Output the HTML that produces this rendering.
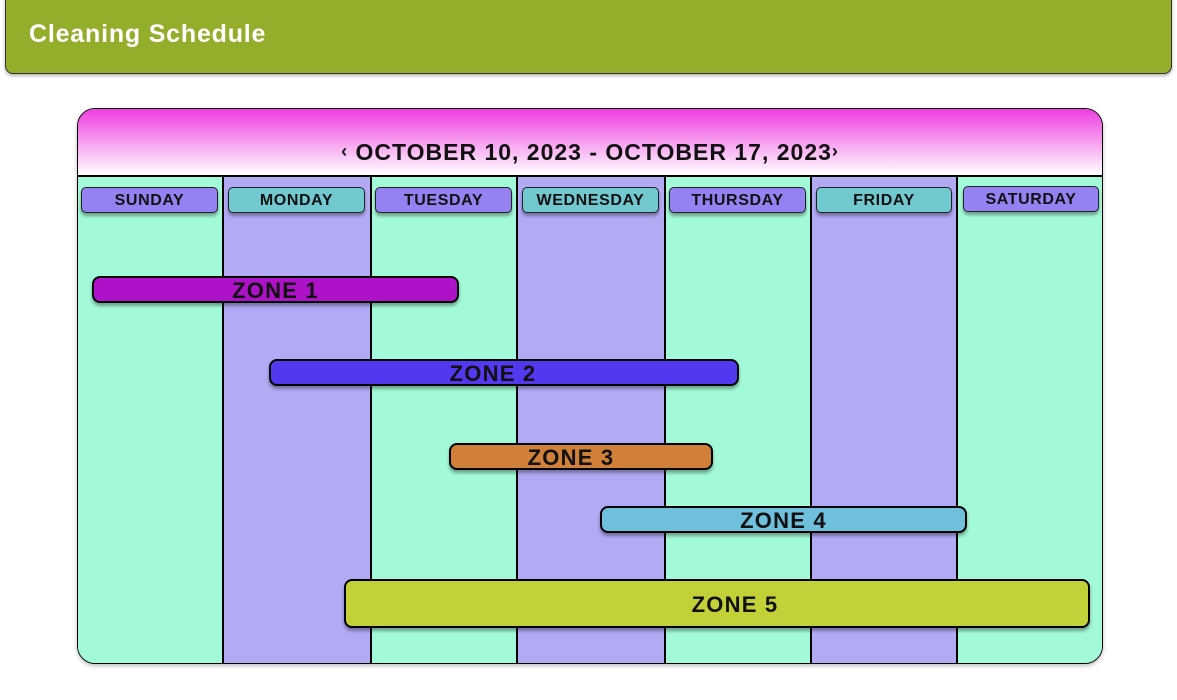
<!DOCTYPE html>
<html><head><style>
body{margin:0;width:1177px;height:700px;background:#fff;position:relative;overflow:hidden;font-family:"Liberation Sans",sans-serif;}
.a{position:absolute;box-sizing:border-box;}
.top{left:5px;top:-2px;width:1167px;height:76px;background:#94ad2b;border:1px solid #333;border-radius:0 0 8px 8px;box-shadow:0 2px 3px rgba(0,0,0,.3);}
.title{left:29px;top:20px;color:#fff;font-weight:bold;font-size:25px;letter-spacing:0.8px;}
.cal{left:77px;top:108px;width:1026px;height:556px;border:1.5px solid #000;border-radius:18px;overflow:hidden;box-shadow:0 2px 4px rgba(0,0,0,.25);}
.hd{left:0;top:0;width:100%;height:68px;background:linear-gradient(#ee3ee0,#fff);border-bottom:2px solid #000;}
.ht{left:0;top:30px;width:100%;text-align:center;font-weight:bold;font-size:23px;color:#111;letter-spacing:1px;}
.col{top:68px;height:500px;border-right:2px solid #000;}
.day{height:26px;border:1px solid #222;border-radius:5px;text-align:center;font-weight:bold;font-size:16px;line-height:25px;color:#111;letter-spacing:0.6px;box-shadow:0 3px 3px rgba(0,0,0,.35);}
.bar{border:2px solid #000;border-radius:8px;text-align:center;font-weight:bold;font-size:22px;color:#111;letter-spacing:1.2px;box-shadow:0 3px 3px rgba(0,0,0,.35);}
</style></head><body>
<div class="a top"></div>
<div class="a title">Cleaning Schedule</div>
<div class="a cal">
 <div class="a col" style="left:0;width:146px;background:#a3fad8"></div>
 <div class="a col" style="left:146px;width:148px;background:#b3aaf6"></div>
 <div class="a col" style="left:294px;width:146px;background:#a3fad8"></div>
 <div class="a col" style="left:440px;width:148px;background:#b3aaf6"></div>
 <div class="a col" style="left:588px;width:146px;background:#a3fad8"></div>
 <div class="a col" style="left:734px;width:146px;background:#b3aaf6"></div>
 <div class="a col" style="left:880px;width:150px;background:#a3fad8;border-right:none"></div>
 <div class="a hd"></div>
 <div class="a ht"><span style="font-size:18px;vertical-align:3px">‹</span> OCTOBER 10, 2023 - OCTOBER 17, 2023<span style="font-size:18px;vertical-align:3px">›</span></div>
</div>
<div class="a day" style="left:81px;top:187px;width:137px;background:#9482f2">SUNDAY</div>
<div class="a day" style="left:228px;top:187px;width:137px;background:#72c8cf">MONDAY</div>
<div class="a day" style="left:375px;top:187px;width:137px;background:#9482f2">TUESDAY</div>
<div class="a day" style="left:522px;top:187px;width:137px;background:#72c8cf">WEDNESDAY</div>
<div class="a day" style="left:669px;top:187px;width:137px;background:#9482f2">THURSDAY</div>
<div class="a day" style="left:816px;top:187px;width:136px;background:#72c8cf">FRIDAY</div>
<div class="a day" style="left:963px;top:186px;width:136px;background:#9482f2">SATURDAY</div>
<div class="a bar" style="left:92px;top:276px;width:367px;height:27px;line-height:25px;background:#ad12c8">ZONE 1</div>
<div class="a bar" style="left:269px;top:359px;width:470px;height:27px;line-height:25px;padding-right:22px;background:#5238ee">ZONE 2</div>
<div class="a bar" style="left:449px;top:443px;width:264px;height:27px;line-height:25px;padding-right:20px;background:#d08038">ZONE 3</div>
<div class="a bar" style="left:600px;top:506px;width:367px;height:27px;line-height:25px;background:#6ec0dc">ZONE 4</div>
<div class="a bar" style="left:344px;top:579px;width:746px;height:49px;line-height:47px;padding-left:36px;background:#c3d138">ZONE 5</div>
</body></html>
